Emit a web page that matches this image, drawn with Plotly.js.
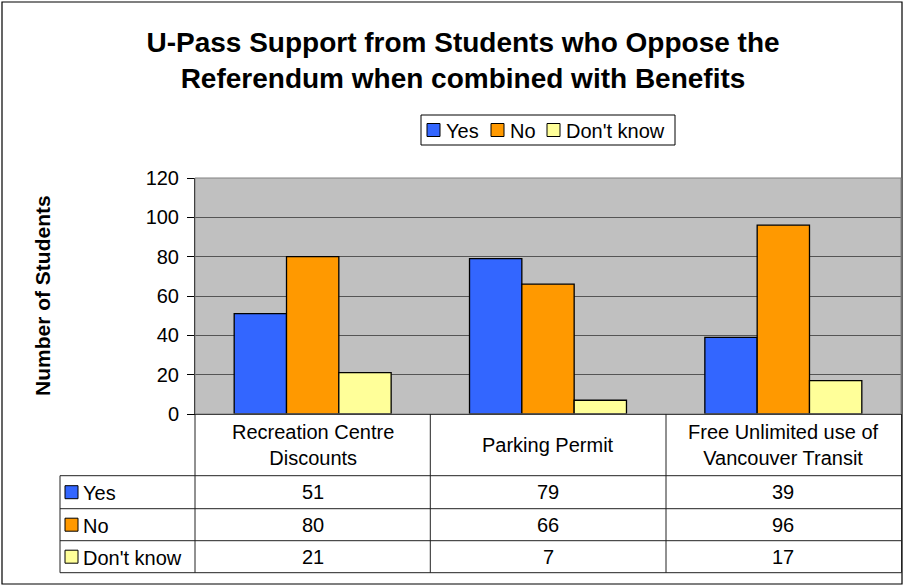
<!DOCTYPE html>
<html>
<head>
<meta charset="utf-8">
<script src="https://cdn.plot.ly/plotly-3.0.1.min.js"></script>
<style>html,body{margin:0;padding:0;background:#fff;}#chart{width:904px;height:586px;}</style>
</head>
<body>
<div id="chart"></div>
<script>
const categories = ['Recreation Centre Discounts', 'Parking Permit', 'Free Unlimited use of Vancouver Transit'];
const categoryLabels = ['Recreation Centre<br>Discounts', 'Parking Permit', 'Free Unlimited use of<br>Vancouver Transit'];
const seriesNames = ['Yes', 'No', "Don't know"];
const yesValues = [51, 79, 39];
const noValues = [80, 66, 96];
const dontKnowValues = [21, 7, 17];
const yTickValues = [0, 20, 40, 60, 80, 100, 120];

const seriesValues = [yesValues, noValues, dontKnowValues];
const seriesColors = ['#3366FF', '#FF9900', '#FFFF99'];
const FONT = 'Liberation Sans, Arial, sans-serif';
const FS = 20;

// plot area in pixels
const W = 904, H = 586;
const L = 195, R = 901, T = 178, B = 414;
const px = x => (x - L) / (R - L);
const py = y => (B - y) / (B - T);

const traces = seriesNames.map((name, i) => ({
  type: 'bar',
  name: name,
  x: categories,
  y: seriesValues[i],
  marker: {color: seriesColors[i], line: {color: '#000', width: 1.3}},
  hoverinfo: 'x+y+name'
}));

const shapes = [];
const annotations = [];
const lineColor = '#222';
function hline(x0, x1, y, c) {
  shapes.push({type: 'line', xref: 'paper', yref: 'paper', x0: px(x0), x1: px(x1), y0: py(y), y1: py(y), line: {color: c || lineColor, width: 1}});
}
function vline(x, y0, y1, c) {
  shapes.push({type: 'line', xref: 'paper', yref: 'paper', x0: px(x), x1: px(x), y0: py(y0), y1: py(y1), line: {color: c || lineColor, width: 1}});
}
function keyBox(x, yc, color) {
  shapes.push({type: 'rect', xref: 'paper', yref: 'paper', x0: px(x), x1: px(x + 13), y0: py(yc - 6.5), y1: py(yc + 6.5),
    fillcolor: color, line: {color: '#000', width: 1}});
}
function label(x, y, text, anchor) {
  annotations.push({xref: 'paper', yref: 'paper', x: px(x), y: py(y), text: text, showarrow: false,
    font: {family: FONT, size: FS, color: '#000'}, xanchor: anchor || 'left', yanchor: 'middle'});
}

// outer chart border
shapes.push({type: 'rect', xref: 'paper', yref: 'paper', x0: px(2), x1: px(902), y0: py(2), y1: py(584), line: {color: '#000', width: 1.2}, layer: 'below'});
// plot area border (top/right gray)
shapes.push({type: 'rect', xref: 'paper', yref: 'paper', x0: 0, x1: 1, y0: 0, y1: 1, line: {color: '#808080', width: 1}, layer: 'above'});

// legend (manual, Excel style)
shapes.push({type: 'rect', xref: 'paper', yref: 'paper', x0: px(421), x1: px(675), y0: py(115), y1: py(145), line: {color: '#000', width: 1}, fillcolor: '#fff'});
const legendKeyX = [427, 491, 547];
seriesNames.forEach((name, i) => {
  keyBox(legendKeyX[i], 130, seriesColors[i]);
  label(legendKeyX[i] + 17, 131, name);
});

// data table grid
const rowTops = [475.7, 508.7, 540.7, 572.7];
const colEdges = [195, 430.3, 666, 901.5];
rowTops.forEach(y => hline(60, 901.5, y));
vline(60, 475.7, 572.7);
colEdges.forEach(x => vline(x, 414, 572.7));

// category header labels
categories.forEach((c, j) => {
  annotations.push({xref: 'x', yref: 'paper', x: j, y: py(445), text: categoryLabels[j], showarrow: false,
    font: {family: FONT, size: FS, color: '#000'}, xanchor: 'center', yanchor: 'middle'});
});

// rows
seriesNames.forEach((name, i) => {
  const yc = (rowTops[i] + rowTops[i + 1]) / 2;
  keyBox(65, yc, seriesColors[i]);
  label(81, yc + 1, name);
  seriesValues[i].forEach((v, j) => {
    annotations.push({xref: 'x', yref: 'paper', x: j, y: py(yc), text: String(v), showarrow: false,
      font: {family: FONT, size: FS, color: '#000'}, xanchor: 'center', yanchor: 'middle'});
  });
});

// y axis title
annotations.push({xref: 'paper', yref: 'paper', x: px(42), y: py(296), text: '<b>Number of Students</b>', textangle: -90,
  showarrow: false, font: {family: FONT, size: 21, color: '#000'}, xanchor: 'center', yanchor: 'middle'});

const layout = {
  width: W, height: H,
  margin: {l: L, r: W - R, t: T, b: H - B, pad: 0},
  paper_bgcolor: '#fff',
  plot_bgcolor: '#C0C0C0',
  font: {family: FONT, size: FS, color: '#000'},
  title: {text: '<b>U-Pass Support from Students who Oppose the<br>Referendum when combined with Benefits</b>',
    font: {family: FONT, size: 28, color: '#000'}, x: 463 / W, xanchor: 'center', xref: 'container',
    y: 1 - 52 / H, yanchor: 'middle', yref: 'container'},
  barmode: 'group',
  bargap: 0.333,
  bargroupgap: 0,
  showlegend: false,
  xaxis: {showticklabels: false, ticks: '', showgrid: false, showline: true, linecolor: '#000', linewidth: 1, range: [-0.5, 2.5], fixedrange: true},
  yaxis: {range: [0, 120], tickvals: yTickValues, ticks: 'outside', ticklen: 7, tickcolor: '#000', ticklabelstandoff: 4,
    showline: true, linecolor: '#000', linewidth: 1, showgrid: true, gridcolor: '#555', gridwidth: 1,
    tickfont: {family: FONT, size: FS, color: '#000'}, zeroline: false, fixedrange: true},
  shapes: shapes,
  annotations: annotations
};

Plotly.newPlot('chart', traces, layout, {displayModeBar: false, staticPlot: true});
</script>
</body>
</html>
